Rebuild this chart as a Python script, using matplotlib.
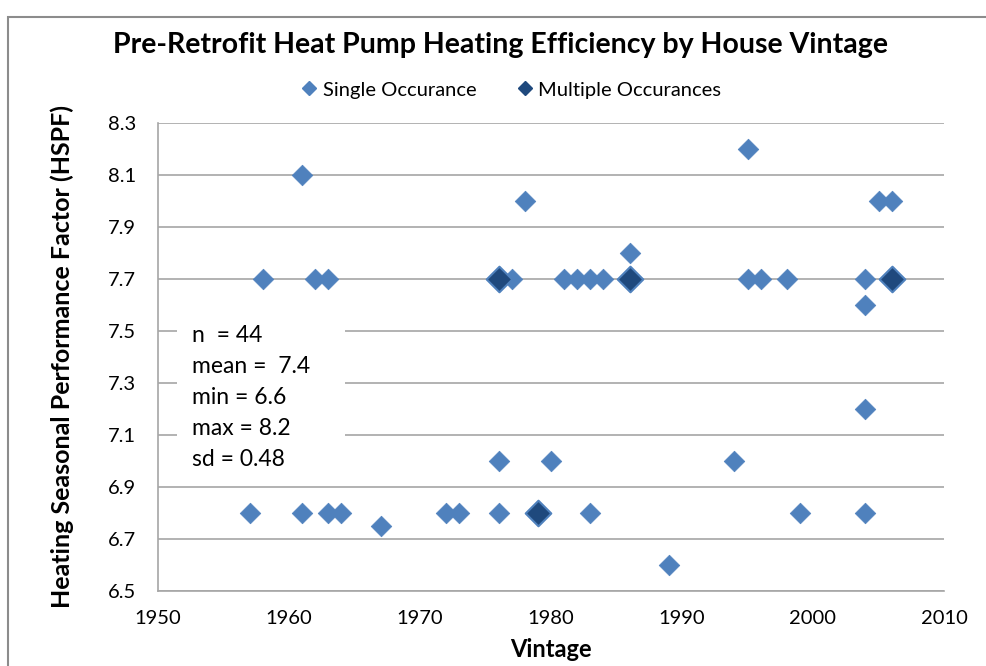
import matplotlib
matplotlib.use("Agg")
import matplotlib.pyplot as plt
from matplotlib.patches import Rectangle
from matplotlib.lines import Line2D

# Single occurrence points (vintage year, HSPF)
single_year = [1961, 1978, 2005, 2006, 1995, 1986,
               1958, 1962, 1963, 1977, 1981, 1982, 1983, 1984, 1995, 1996, 1998, 2004,
               2004, 2004,
               1976, 1980, 1994,
               1957, 1961, 1963, 1964, 1972, 1973, 1976, 1983, 1999, 2004,
               1967, 1989]
single_hspf = [8.1, 8.0, 8.0, 8.0, 8.2, 7.8,
               7.7, 7.7, 7.7, 7.7, 7.7, 7.7, 7.7, 7.7, 7.7, 7.7, 7.7, 7.7,
               7.6, 7.2,
               7.0, 7.0, 7.0,
               6.8, 6.8, 6.8, 6.8, 6.8, 6.8, 6.8, 6.8, 6.8, 6.8,
               6.75, 6.6]

# Multiple occurrence points
multi_year = [1976, 1986, 2006, 1979]
multi_hspf = [7.7, 7.7, 7.7, 6.8]

stats_lines = ["n  = 44", "mean =  7.4", "min = 6.6", "max = 8.2", "sd = 0.48"]

yticks = [6.5, 6.7, 6.9, 7.1, 7.3, 7.5, 7.7, 7.9, 8.1, 8.3]
xticks = [1950, 1960, 1970, 1980, 1990, 2000, 2010]

SINGLE_C = '#4F81BD'
MULTI_C = '#1F497D'

plt.rcParams['font.family'] = ['Lato', 'DejaVu Sans']

W, H = 986, 666
fig = plt.figure(figsize=(W / 100, H / 100), dpi=100)
ax = fig.add_axes([158 / W, 1 - 591 / H, (944 - 158) / W, (591 - 123) / H])

# outer chart border
fig.patches.append(Rectangle((8 / W, -0.1), 1.2, 1.1 - 17 / H, transform=fig.transFigure,
                             fill=False, edgecolor='#8c8c8c', linewidth=1.5))

ax.scatter(single_year, single_hspf, marker='D', s=110, color=SINGLE_C,
           edgecolors=SINGLE_C, linewidths=0.5, zorder=3)
ax.scatter(multi_year, multi_hspf, marker='D', s=170, color=MULTI_C,
           edgecolors=SINGLE_C, linewidths=1.5, zorder=4)

ax.set_xlim(1950, 2010)
ax.set_ylim(6.5, 8.3)
ax.set_xticks(xticks)
ax.set_yticks(yticks)
ax.set_yticklabels([f"{v:.1f}" for v in yticks])
ax.tick_params(length=0, labelsize=14.5, colors='#000000')
ax.tick_params(axis='y', pad=16)
ax.tick_params(axis='x', pad=14)
ax.grid(axis='y', color='#a6a6a6', linewidth=1.2)
ax.set_axisbelow(True)
for side in ['top', 'right']:
    ax.spines[side].set_visible(False)
for side in ['left', 'bottom']:
    ax.spines[side].set_color('#a6a6a6')
    ax.spines[side].set_linewidth(1.2)

ax.set_xlabel('Vintage', fontsize=17, fontweight='bold')
ax.xaxis.set_label_coords(0.5, (591 - 638) / (591 - 123))
ax.set_ylabel('Heating Seasonal Performance Factor (HSPF)', fontsize=18,
              fontweight='bold', va='center')
ax.yaxis.set_label_coords((62 - 158) / (944 - 158), 0.5)

fig.text(0.508, 1 - 45 / H, 'Pre-Retrofit Heat Pump Heating Efficiency by House Vintage',
         ha='center', va='center', fontsize=20.5, fontweight='bold')

handles = [Line2D([], [], linestyle='none', marker='D', markersize=7,
                  color=SINGLE_C, label='Single Occurance'),
           Line2D([], [], linestyle='none', marker='D', markersize=7,
                  color=MULTI_C, label='Multiple Occurances')]
fig.legend(handles=handles, loc='center', bbox_to_anchor=(510 / W, 1 - 90 / H), ncol=2,
           frameon=False, fontsize=14.5, handletextpad=0.15, columnspacing=1.9,
           handlelength=1.0)

# statistics text box (white box hides the gridlines behind it)
ax_h = 591 - 123
ax.add_patch(Rectangle(((177 - 158) / 786, (591 - 475) / ax_h), (345 - 177) / 786,
                       (475 - 318) / ax_h, transform=ax.transAxes, facecolor='white',
                       edgecolor='none', zorder=2))
for i, line in enumerate(stats_lines):
    yc = 335 + i * 31.2
    ax.text((192 - 158) / 786, (591 - yc) / ax_h, line, transform=ax.transAxes,
            fontsize=16.5, va='center', ha='left', zorder=5)

fig.savefig('out.png', dpi=100)
